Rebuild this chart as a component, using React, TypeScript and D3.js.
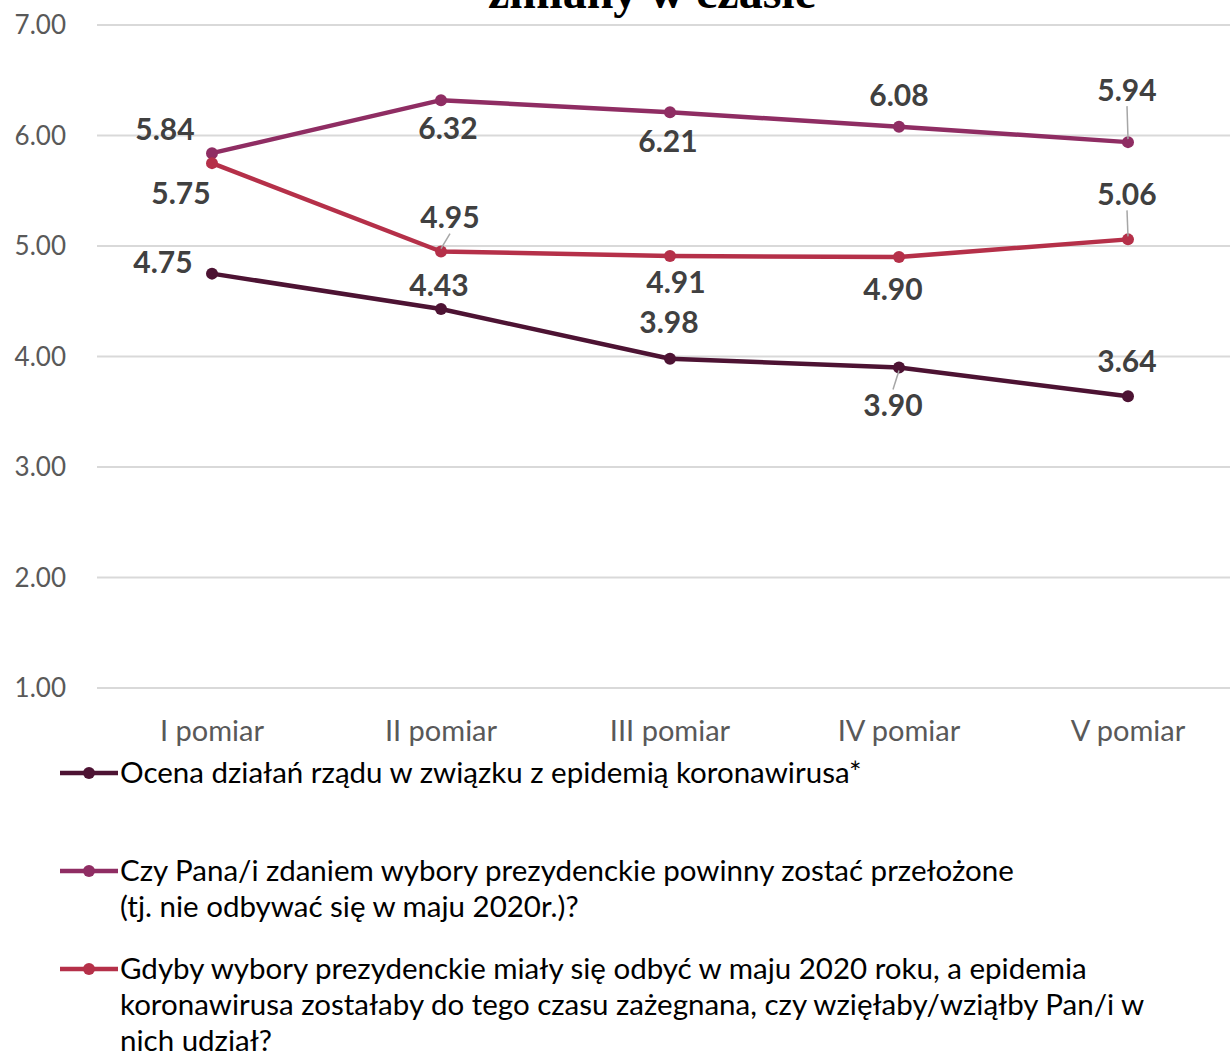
import React from "react";
import * as d3 from "d3";

const categories = ["I pomiar", "II pomiar", "III pomiar", "IV pomiar", "V pomiar"];
const yTicks = [1, 2, 3, 4, 5, 6, 7];
const seriesNames = [
  ["Ocena działań rządu w związku z epidemią koronawirusa*"],
  ["Czy Pana/i zdaniem wybory prezydenckie powinny zostać przełożone", "(tj. nie odbywać się w maju 2020r.)?"],
  [
    "Gdyby wybory prezydenckie miały się odbyć w maju 2020 roku, a epidemia",
    "koronawirusa zostałaby do tego czasu zażegnana, czy wzięłaby/wziąłby Pan/i w",
    "nich udział?",
  ],
];
const ocenaValues = [4.75, 4.43, 3.98, 3.9, 3.64];
const przelozoneValues = [5.84, 6.32, 6.21, 6.08, 5.94];
const udzialValues = [5.75, 4.95, 4.91, 4.9, 5.06];
const seriesValues = [ocenaValues, przelozoneValues, udzialValues];
const seriesColors = ["#4d1333", "#8f2d63", "#b53049"];

// label offsets (layout only): [dx, dy, leader]
const labelOffsets = [
  [[-49, -11, 0], [-2, -23, 0], [-1, -36, 0], [-6, 38, 1], [-1, -35, 0]],
  [[-47, -24, 0], [7, 28, 0], [-2, 29, 0], [0, -31, 0], [-1, -52, 1]],
  [[-31, 30, 0], [9, -34, 1], [6, 27, 0], [-6, 32, 0], [-1, -45, 1]],
];

const W = 1230;
const H = 1055;
const FONT = "Lato, 'Open Sans', sans-serif";

export default function App() {
  const x = d3.scalePoint<string>().domain(categories).range([212, 1128]);
  const y = d3.scaleLinear().domain([1, 7]).range([688, 25]);
  const line = d3
    .line<number>()
    .x((_, i) => x(categories[i]) as number)
    .y((d) => y(d));

  const legendY = [773, 871, 969];
  const legendLH = 36;

  return (
    <svg
      width={W}
      height={H}
      style={{ position: "absolute", left: 0, top: 0, background: "#fff" }}
      fontFamily={FONT}
    >
      <rect x={0} y={0} width={W} height={H} fill="#fff" />
      <text
        x={652}
        y={8}
        textAnchor="middle"
        fontFamily="'Liberation Serif', 'Times New Roman', serif"
        fontWeight="bold"
        fontSize={48}
        fill="#000"
      >
        zmiany w czasie
      </text>
      {yTicks.map((t) => (
        <g key={t}>
          <line x1={97} x2={W} y1={y(t)} y2={y(t)} stroke="#d9d9d9" strokeWidth={2} />
          <text x={66} y={y(t)} dy="0.35em" textAnchor="end" fontSize={26} fill="#595959">
            {d3.format(".2f")(t)}
          </text>
        </g>
      ))}
      {categories.map((c) => (
        <text key={c} x={x(c)} y={731} dy="0.35em" textAnchor="middle" fontSize={29} fill="#595959">
          {c}
        </text>
      ))}
      {seriesValues.map((vals, si) => (
        <g key={si}>
          <path d={line(vals) || ""} fill="none" stroke={seriesColors[si]} strokeWidth={4.5} strokeLinejoin="round" />
          {vals.map((v, i) => (
            <circle key={i} cx={x(categories[i])} cy={y(v)} r={6} fill={seriesColors[si]} />
          ))}
        </g>
      ))}
      {seriesValues.map((vals, si) =>
        vals.map((v, i) => {
          const [dx, dy, leader] = labelOffsets[si][i];
          const px = x(categories[i]) as number;
          const py = y(v);
          const lx = px + dx;
          const ly = py + dy;
          return (
            <g key={`${si}-${i}`}>
              {leader ? (
                <line
                  x1={lx}
                  y1={dy < 0 ? ly + 16 : ly - 16}
                  x2={px}
                  y2={dy < 0 ? py - 3 : py + 3}
                  stroke="#a6a6a6"
                  strokeWidth={1.5}
                />
              ) : null}
              <text
                x={lx}
                y={ly}
                dy="0.35em"
                textAnchor="middle"
                fontSize={30}
                fontWeight="bold"
                fill="#404040"
              >
                {d3.format(".2f")(v)}
              </text>
            </g>
          );
        })
      )}
      {seriesNames.map((lines, si) => (
        <g key={si}>
          <line x1={60} x2={118} y1={legendY[si]} y2={legendY[si]} stroke={seriesColors[si]} strokeWidth={4.5} />
          <circle cx={89} cy={legendY[si]} r={6} fill={seriesColors[si]} />
          {lines.map((l, li) => (
            <text key={li} x={120} y={legendY[si] + li * legendLH} dy="0.35em" fontSize={29.5} fill="#000">
              {l}
            </text>
          ))}
        </g>
      ))}
    </svg>
  );
}
